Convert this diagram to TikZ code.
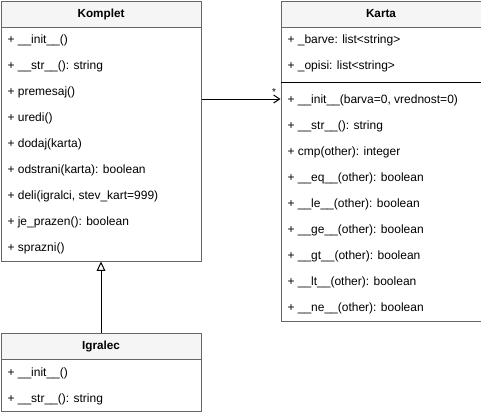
\documentclass[tikz,border=0pt]{standalone}
\usepackage{fontspec}
\setmainfont{Liberation Sans}
\usetikzlibrary{arrows.meta}
\definecolor{umlline}{HTML}{666666}
\definecolor{umlhead}{HTML}{F5F5F5}
\tikzset{
  classbox/.style={draw=umlline, minimum width=150pt, inner sep=0pt, anchor=north west},
  classhead/.style={classbox, fill=umlhead, minimum height=19.5pt, font=\fontsize{8.8}{10}\selectfont\bfseries},
  member/.style={anchor=west, inner sep=0pt, text height=6.2pt, text depth=0pt},
  assoc/.style={-{Straight Barb[length=4.5pt,width=6pt]}},
  inherit/.style={-{Triangle[open,length=7pt,width=6.5pt]}},
}
\begin{document}
\begin{tikzpicture}[x=0.75pt,y=-0.75pt,font=\fontsize{9}{10}\selectfont,line width=0.75pt]
    \useasboundingbox (0,0) rectangle (481,415);
    % Komplet
    \node[classbox, minimum height=195pt] (komplet) at (0.5,0.5) {};
    \node[classhead] (komplethead) at (0.5,0.5) {Komplet};
    \foreach \i/\t in {1/{+ \_\_init\_\_()}, 2/{+ \_\_str\_\_(): string}, 3/{+ premesaj()},
        4/{+ uredi()}, 5/{+ dodaj(karta)}, 6/{+ odstrani(karta): boolean},
        7/{+ deli(igralci, stev\_kart=999)}, 8/{+ je\_prazen(): boolean}, 9/{+ sprazni()}}
        \node[member] (kompletop\i) at (7,13+26*\i) {\t};
    % Karta
    \node[classbox, minimum height=240pt] (karta) at (280.5,0.5) {};
    \node[classhead] (kartahead) at (280.5,0.5) {Karta};
    \node[member] (kartaat1) at (287,39) {+ \_barve: list<string>};
    \node[member] (kartaat2) at (287,65) {+ \_opisi: list<string>};
    \draw (karta.west |- 0,82.5) -- (karta.east |- 0,82.5);
    \foreach \i/\t in {1/{+ \_\_init\_\_(barva=0, vrednost=0)}, 2/{+ \_\_str\_\_(): string},
        3/{+ cmp(other): integer}, 4/{+ \_\_eq\_\_(other): boolean}, 5/{+ \_\_le\_\_(other): boolean},
        6/{+ \_\_ge\_\_(other): boolean}, 7/{+ \_\_gt\_\_(other): boolean},
        8/{+ \_\_lt\_\_(other): boolean}, 9/{+ \_\_ne\_\_(other): boolean}}
        \node[member] (kartaop\i) at (287,73+26*\i) {\t};
    % Igralec
    \node[classbox, minimum height=58.5pt] (igralec) at (0.5,332.5) {};
    \node[classhead] (igralechead) at (0.5,332.5) {Igralec};
    \node[member] (igralecop1) at (7,372) {+ \_\_init\_\_()};
    \node[member] (igralecop2) at (7,398) {+ \_\_str\_\_(): string};
    % connectors
    \draw[assoc] (komplet.east |- kartaop1) -- (kartaop1 -| karta.west);
    \node[anchor=base, inner sep=0pt, font=\fontsize{7.5}{9}\selectfont] (kartamult) at (274,95) {*};
    \draw[inherit] (igralechead.north) -- (komplet.south);
\end{tikzpicture}
\end{document}
